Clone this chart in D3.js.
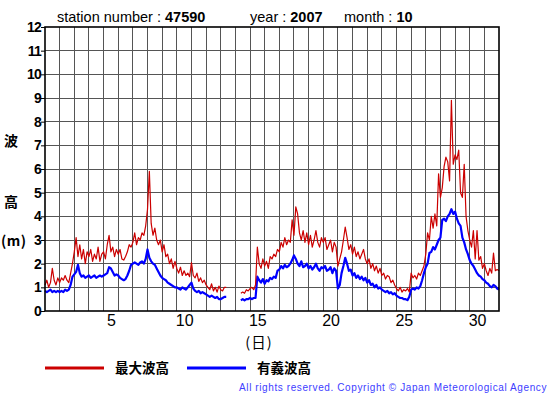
<!DOCTYPE html>
<html>
<head>
<meta charset="utf-8">
<script src="https://cdn.jsdelivr.net/npm/d3@7"></script>
<style>
  body { margin: 0; background: #fff; }
  svg { display: block; }
</style>
</head>
<body>
<script>
// wave height, station 47590, 2007-10, read every 3 hours (null = no data)
var stepHours = 3;

var maxWave = [
  1.1, 1.3, 1.0, 1.2, 1.8, 1.3, 1.1, 1.4,
  1.2, 1.4, 1.3, 1.5, 1.3, 1.2, 1.6, 2.0,
  2.5, 3.1, 2.3, 2.8, 2.2, 2.6, 2.0, 2.5,
  2.3, 2.6, 2.1, 2.4, 2.2, 2.7, 2.1, 2.4,
  2.5, 2.2, 2.8, 3.2, 2.5, 2.7, 2.3, 2.6,
  2.4, 2.6, 2.2, 2.15, 2.3, 2.5, 2.8, 2.7,
  2.9, 3.3, 2.8, 3.1, 3.0, 3.3, 3.2, 3.6,
  4.3, 5.9, 3.7, 3.2, 3.5, 3.0, 2.8, 3.0,
  2.5, 2.8, 2.3, 2.4, 2.0, 2.2, 1.8, 2.1,
  1.8, 1.6, 1.85, 1.5, 1.7, 1.5, 1.6, 1.45,
  2.05, 1.5, 1.4, 1.6, 1.25, 1.4, 1.2, 1.3,
  1.1, 1.0, 0.9, 1.15, 0.85, 1.0, 0.8, 1.05,
  0.9, 0.85, 1.0, 1.0, null, null, null, null,
  null, null, null, 0.75, 0.8, 0.75, 0.9, 0.85,
  0.95, 1.0, 0.9, 1.1, 2.7, 2.0, 1.8, 2.2,
  1.9, 2.1, 1.8, 2.3, 2.2, 2.4, 2.3, 2.6,
  2.5, 2.9, 2.7, 3.1, 2.8, 3.0, 2.9, 3.85,
  3.2, 4.4, 4.1, 3.3, 3.0, 3.4, 2.9, 3.3,
  2.8, 3.2, 2.7, 3.0, 3.4, 2.9, 2.7, 3.1,
  2.9, 3.1, 2.6, 2.8, 3.0, 2.5, 2.9, 2.7,
  1.9, 2.2, 2.5, 3.0, 3.55, 3.1, 2.6, 2.8,
  2.4, 2.7, 2.3, 2.5, 2.2, 2.4, 2.6, 2.2,
  2.0, 2.2, 1.8, 2.0, 1.7, 1.9, 1.6, 1.8,
  1.5, 1.6, 1.35, 1.5, 1.45, 1.2, 1.3, 1.1,
  0.95, 0.85, 1.0, 0.8, 0.9, 0.85, 0.95, 0.8,
  1.6, 1.4, 1.5, 1.35, 1.6, 1.5, 1.7, 1.9,
  2.4, 3.3, 3.0, 4.0, 3.5, 4.1, 3.6, 5.8,
  4.8, 5.2, 6.1, 6.5, 6.3, 5.5, 8.9, 6.2,
  6.6, 6.4, 6.8, 5.0, 4.8, 6.2, 4.0, 3.4,
  3.0, 2.7, 3.4, 2.2, 3.4, 2.15, 2.3, 1.8,
  2.0, 1.7, 1.5, 1.8, 1.6, 2.45, 1.7, 1.75,
  1.7
];

var sigWave = [
  0.85, 0.8, 0.85, 0.9, 0.8, 0.85, 0.8, 0.85,
  0.8, 0.85, 0.8, 0.9, 0.85, 0.9, 1.1, 1.45,
  1.55, 1.65, 1.95, 1.6, 1.45, 1.5, 1.4, 1.45,
  1.5, 1.4, 1.45, 1.5, 1.4, 1.45, 1.5, 1.45,
  1.5, 1.55, 1.6, 1.85, 1.8, 1.65, 1.5, 1.55,
  1.5, 1.4, 1.35, 1.3, 1.35, 1.5, 1.7, 1.95,
  2.0, 2.05, 2.0, 1.95, 2.05, 2.1, 2.0, 2.2,
  2.6, 2.25, 2.1, 2.0, 1.95, 1.8, 1.65, 1.5,
  1.4, 1.35, 1.3, 1.2, 1.15, 1.1, 1.05, 1.0,
  1.0, 0.95, 0.9, 1.0, 0.95, 0.9, 1.0, 1.1,
  1.2, 0.95, 0.85, 0.8, 0.85, 0.75, 0.8, 0.75,
  0.7, 0.65, 0.6, 0.65, 0.6, 0.55, 0.6, 0.5,
  0.5, 0.55, 0.6, 0.6, null, null, null, null,
  null, null, null, 0.45, 0.5, 0.45, 0.5, 0.5,
  0.55, 0.5, 0.55, 0.55, 1.45, 1.3, 1.2, 1.35,
  1.15, 1.3, 1.25, 1.4, 1.35, 1.45, 1.4, 1.7,
  1.75, 1.9, 1.8, 1.95, 1.85, 1.9, 2.0, 2.15,
  2.35, 2.2, 2.0, 1.9, 2.1, 1.85, 1.9, 2.0,
  1.8, 1.9, 1.75, 1.85, 2.0, 1.8, 1.7, 1.85,
  1.8, 1.9, 1.7, 1.75, 1.85, 1.6, 1.8, 1.7,
  0.95, 1.1, 1.6, 1.9, 2.25, 2.0, 1.7, 1.75,
  1.5, 1.6, 1.4, 1.5, 1.35, 1.45, 1.3, 1.4,
  1.2, 1.3, 1.1, 1.15, 1.0, 1.1, 0.95, 1.0,
  0.9, 0.85, 0.8, 0.85, 0.75, 0.8, 0.7, 0.75,
  0.65, 0.6, 0.55, 0.55, 0.5, 0.5, 0.46, 0.6,
  0.9, 0.95, 0.9, 1.0, 0.95, 1.05, 1.3, 1.6,
  1.85, 2.0, 2.45, 2.5, 2.7, 2.6, 2.8, 3.0,
  3.1, 3.85, 3.9, 3.8, 4.0, 4.1, 4.3, 4.1,
  4.2, 3.9, 3.7, 3.6, 3.1, 2.9, 2.6, 2.4,
  2.15, 2.0, 1.9, 1.75, 1.6, 1.5, 1.45, 1.35,
  1.3, 1.2, 1.15, 1.05, 1.0, 1.1, 1.05, 0.95,
  0.9
];

var dayTicks = [5, 10, 15, 20, 25, 30];
var heightTicks = [0, 1, 2, 3, 4, 5, 6, 7, 8, 9, 10, 11, 12];
var legendItems = [
  {label: '最大波高', color: '#cc0000'},
  {label: '有義波高', color: '#0000ff'}
];

// layout
var W = 555, H = 395;
var plotL = 45, plotR = 499, plotT = 27, plotB = 311;

var svg = d3.select('body').append('svg').attr('width', W).attr('height', H);

var x = d3.scaleLinear().domain([1, 32]).range([plotL, plotR]);
var y = d3.scaleLinear().domain([0, 12]).range([plotB, plotT]);

var font = '"Liberation Sans", Arial, Helvetica, sans-serif';
var cjk = '"Noto Sans CJK JP", "Noto Sans CJK SC", sans-serif';

// header
var head = svg.append('text').attr('y', 22).attr('font-family', font).attr('font-size', 14.5).attr('fill', '#000');
head.append('tspan').attr('x', 57).text('station number : ');
head.append('tspan').attr('font-weight', 'bold').text('47590');
var head2 = svg.append('text').attr('y', 22).attr('font-family', font).attr('font-size', 14.5);
head2.append('tspan').attr('x', 250).text('year : ');
head2.append('tspan').attr('font-weight', 'bold').text('2007');
var head3 = svg.append('text').attr('y', 22).attr('font-family', font).attr('font-size', 14.5);
head3.append('tspan').attr('x', 344).text('month : ');
head3.append('tspan').attr('font-weight', 'bold').text('10');

// grid
var grid = svg.append('g').attr('stroke', '#555').attr('stroke-width', 1).attr('shape-rendering', 'crispEdges');
grid.selectAll('.vg').data(d3.range(2, 32)).enter().append('line')
  .attr('x1', d => x(d)).attr('x2', d => x(d)).attr('y1', plotT).attr('y2', plotB);
grid.selectAll('.hg').data(heightTicks.slice(1, -1)).enter().append('line')
  .attr('x1', plotL).attr('x2', plotR).attr('y1', d => y(d)).attr('y2', d => y(d));

// series
var t = i => 1 + i * stepHours / 24;
var line = d3.line().defined(d => d != null).x((d, i) => x(t(i))).y(d => y(d));

svg.append('path').datum(sigWave).attr('d', line)
  .attr('fill', 'none').attr('stroke', '#0000ff').attr('stroke-width', 2.2).attr('stroke-linejoin', 'round');
svg.append('path').datum(maxWave).attr('d', line)
  .attr('fill', 'none').attr('stroke', '#cc0000').attr('stroke-width', 1.2).attr('stroke-linejoin', 'round');

// frame
svg.append('rect').attr('x', plotL).attr('y', plotT).attr('width', plotR - plotL).attr('height', plotB - plotT)
  .attr('fill', 'none').attr('stroke', '#000').attr('stroke-width', 1.6);

// y axis
var yAxis = svg.append('g').attr('transform', 'translate(' + plotL + ',0)')
  .call(d3.axisLeft(y).tickValues(heightTicks).tickSize(4).tickPadding(0).tickFormat(d3.format('d')));
yAxis.select('.domain').remove();
yAxis.selectAll('line').attr('stroke', '#000');
yAxis.selectAll('text').attr('font-family', font).attr('font-size', 14).attr('font-weight', 'bold')
  .attr('letter-spacing', -0.8).attr('fill', '#000');

// x axis labels, centred on each day
var xAxis = svg.append('g').attr('transform', 'translate(0,' + plotB + ')')
  .call(d3.axisBottom(x).tickValues(dayTicks.map(d => d + 0.5)).tickSize(0).tickPadding(4).tickFormat(d => Math.floor(d)));
xAxis.select('.domain').remove();
xAxis.selectAll('text').attr('font-family', font).attr('font-size', 16).attr('fill', '#000');

svg.append('text').attr('x', 259).attr('y', 348).attr('text-anchor', 'middle')
  .attr('font-family', cjk).attr('font-size', 14.5).attr('letter-spacing', 1).text('(日)');

// y title
svg.append('text').attr('x', 11).attr('y', 146).attr('text-anchor', 'middle')
  .attr('font-family', cjk).attr('font-size', 14).attr('font-weight', 'bold').text('波');
svg.append('text').attr('x', 11).attr('y', 207).attr('text-anchor', 'middle')
  .attr('font-family', cjk).attr('font-size', 14).attr('font-weight', 'bold').text('高');
svg.append('text').attr('x', 1).attr('y', 246)
  .attr('font-family', cjk).attr('font-size', 14).attr('font-weight', 'bold').attr('letter-spacing', 0.5).text('(m)');

// legend
var leg = svg.selectAll('.leg').data(legendItems).enter().append('g')
  .attr('transform', (d, i) => 'translate(' + (45 + i * 142) + ',368)');
leg.append('line').attr('x1', 0).attr('x2', 59).attr('y1', 0).attr('y2', 0)
  .attr('stroke', d => d.color).attr('stroke-width', 3);
leg.append('text').attr('x', 70).attr('y', 5).attr('font-family', cjk).attr('font-size', 13.5)
  .attr('font-weight', 'bold').text(d => d.label);

// footer
svg.append('text').attr('x', 547).attr('y', 391).attr('text-anchor', 'end')
  .attr('font-family', font).attr('font-size', 10).attr('letter-spacing', 0.6).attr('fill', '#3d3dff')
  .text('All rights reserved. Copyright © Japan Meteorological Agency');
</script>
</body>
</html>
